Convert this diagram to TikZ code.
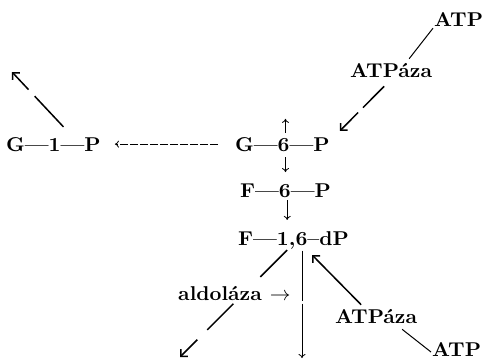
\documentclass[tikz,border=0pt]{standalone}
\usepackage{graphicx}
\usetikzlibrary{arrows.meta,calc}
\newcommand\myhs[1]{\scalebox{2.07}[2.0]{#1}}
\begin{document}
\begin{tikzpicture}[x=1pt,y=-1pt,
  lbl/.style={inner sep=1pt, anchor=base west, font=\fontsize{10}{12}\fontseries{bx}\selectfont},
  lnk/.style={line width=1pt},
  bigarr/.style={line width=1.5pt, -{Straight Barb[length=5pt,width=10pt]}},
  smallarr/.style={line width=0.8pt, -{To[length=4pt,width=7pt]}}]
\useasboundingbox (0,0) rectangle (486,361);
% nodes
\node[lbl] (atpA) at (433,27) {\myhs{ATP}};
\node[lbl] (azA) at (349,77) {\myhs{ATPáza}};
\node[lbl] (g1p) at (5,151) {\myhs{G---1---P}};
\node[lbl] (g6p) at (234,151) {\myhs{G---6---P}};
\node[lbl] (f6p) at (239,197) {\myhs{F---6---P}};
\node[lbl] (f16) at (237,245) {\myhs{F---1,6--dP}};
\node[lbl] (ald) at (177,300) {\myhs{aldoláza $\rightarrow$}};
\node[lbl] (azB) at (334,323) {\myhs{ATPáza}};
\node[lbl] (atpB) at (431,356) {\myhs{ATP}};
% free ends
\coordinate (g1pout) at (12,72);
\coordinate (f16ll) at (180,357);
\coordinate (f16dn) at (302,358);
% connectors
\draw[lnk] (atpA.south west) -- ($(azA.north)+(18,-3)$);
\draw[bigarr, dash pattern=on 30pt off 7pt] ($(azA.south)+(-7,8)$) -- ($(g6p.north east)+(9,-5)$);
\draw[smallarr, dash pattern=on 8pt off 2pt, shorten <=16pt, shorten >=13pt] (g6p.west) -- (g6p.west -| g1p.east);
\draw[bigarr, dash pattern=on 42pt off 9pt] ($(g1p.north)+(10,-9)$) -- (g1pout);
\draw[smallarr, shorten <=3pt] ([xshift=3pt]g6p.north) -- ++(0,-17);
\draw[smallarr, shorten <=5pt, shorten >=10pt] ([xshift=3pt]g6p.south) -- ([xshift=3pt]g6p.south |- f6p.north);
\draw[smallarr, shorten <=2pt, shorten >=10pt] ([xshift=1.6pt]f6p.south) -- ([xshift=1.6pt]f6p.south |- f16.north);
\draw[bigarr, dash pattern=on 38pt off 38pt on 37pt off 14pt on 80pt] ($(f16.south)+(-6.3,0)$) -- (f16ll);
\draw[smallarr, dash pattern=on 50pt off 3pt on 100pt] ($(f16dn |- f16.south)+(0,0.5)$) -- (f16dn);
\draw[bigarr] ($(azB.north)+(-15,-3)$) -- ($(f16.south)+(18.7,5)$);
\draw[lnk] ($(azB.south)+(26,5)$) -- ($(atpB.west)+(0,3)$);
\end{tikzpicture}
\end{document}
